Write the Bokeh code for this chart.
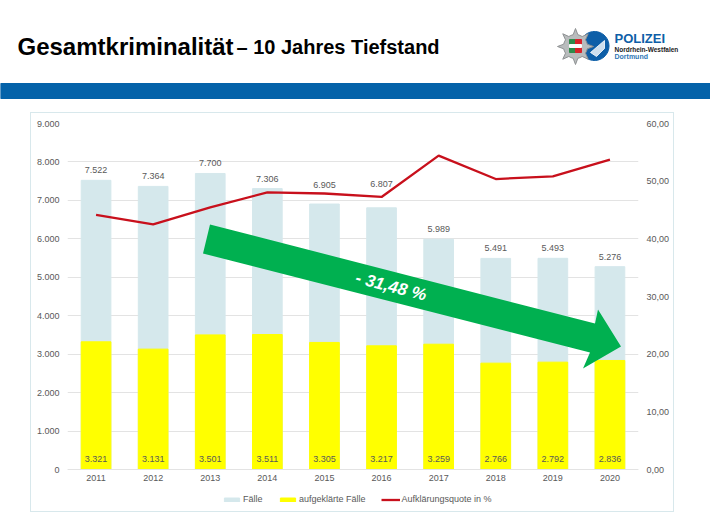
import numpy as np
from bokeh.core.properties import value
from bokeh.embed import file_html
from bokeh.layouts import column
from bokeh.models import (ColumnDataSource, FactorRange, FixedTicker, Label, LabelSet, Legend,
                          LegendItem, LinearAxis, PolyAnnotation, Range1d)
from bokeh.plotting import figure
from bokeh.resources import INLINE

# Values
jahre = ["2011", "2012", "2013", "2014", "2015", "2016", "2017", "2018", "2019", "2020"]
faelle = [7522, 7364, 7700, 7306, 6905, 6807, 5989, 5491, 5493, 5276]
aufgeklaert = [3321, 3131, 3501, 3511, 3305, 3217, 3259, 2766, 2792, 2836]
quote = [44.15, 42.52, 45.47, 48.06, 47.86, 47.26, 54.42, 50.37, 50.83, 53.75]

faelle_ticks = [0, 1000, 2000, 3000, 4000, 5000, 6000, 7000, 8000, 9000]
faelle_tick_labels = ["0", "1.000", "2.000", "3.000", "4.000", "5.000", "6.000", "7.000", "8.000", "9.000"]
quote_ticks = [0, 10, 20, 30, 40, 50, 60]
quote_tick_labels = ["0,00", "10,00", "20,00", "30,00", "40,00", "50,00", "60,00"]

FONT = "'Liberation Sans'"
GREY = "#595959"

# --- header: title, blue band, logo. Frame covers the figure, so 1 unit = 1 page pixel
head = figure(x_range=Range1d(0, 710), y_range=Range1d(112, 0), width=710, height=112,
              min_border=0, min_border_left=0, min_border_right=0, min_border_top=0,
              min_border_bottom=0, x_axis_type=None, y_axis_type=None, frame_align=False,
              output_backend="svg", toolbar_location=None)
head.outline_line_color = None
head.grid.visible = False

head.quad(left=0, right=710, top=83, bottom=98, color="#0462A9")


def head_text(x, y, s, size, color="#000000"):
    head.add_layout(Label(x=x, y=y, text=s, text_font=FONT, text_font_size=size, text_color=color,
                          text_font_style="bold", text_baseline="alphabetic"))


head_text(17, 46, "Gesamtkriminalität", "24px")
head_text(236, 46.5, "– 10 Jahres Tiefstand", "20px")

# police logo
t = np.linspace(0, 2 * np.pi, 60)
head.patch(594 + 14.5 * np.cos(t), 45.5 + 14.5 * np.sin(t), color="#0E5FA8")
head.patch([590, 604, 604, 596], [52, 40, 48, 56], color="#FFFFFF", alpha=0.8)
t = np.linspace(0, 2 * np.pi, 33)[:-1]
r = np.where(np.arange(32) % 4 == 0, 18, 12)
head.patch(575 + r * np.sin(t), 46 - r * np.cos(t), fill_color="#B9BCBD", line_color="#8E9193")
head.quad(left=569, right=575, top=39, bottom=52, color="#2E8B4A")
head.quad(left=575, right=581, top=39, bottom=52, color="#D9232B")
head.quad(left=569, right=581, top=44, bottom=47, color="#FFFFFF")
head_text(614, 38, "POLIZEI", "13px", "#0E5FA8")
head_text(614, 48.5, "Nordrhein-Westfalen", "6.5px", "#1A1A1A")
head_text(614, 55.5, "Dortmund", "7px", "#2F77B5")

# --- chart panel
# the frame runs on below zero, 42 of 388 px, to hold the axis labels and the legend
UNTER_NULL = -42 / 346
p = figure(x_range=FactorRange(factors=jahre, range_padding=0),
           y_range=Range1d(9000 * UNTER_NULL, 9000),
           width=644, height=400, min_border_left=36, min_border_right=37, min_border_top=10,
           min_border_bottom=2, margin=(0, 0, 0, 30), frame_align=False,
           output_backend="svg", toolbar_location=None,
           styles={"border": "1px solid #D8E8EC", "box-sizing": "border-box"})
p.outline_line_color = None
p.xgrid.grid_line_color = None
p.ygrid.grid_line_color = "#E3E3E3"
p.ygrid.ticker = FixedTicker(ticks=faelle_ticks)

p.extra_y_ranges = {"quote": Range1d(60 * UNTER_NULL, 60)}
p.add_layout(LinearAxis(y_range_name="quote"), "right")


def style_axis(axis, standoff=8):
    axis.axis_line_color = None
    axis.major_tick_line_color = None
    axis.minor_tick_line_color = None
    axis.major_tick_out = 0
    axis.major_tick_in = 0
    axis.major_label_text_font = FONT
    axis.major_label_text_font_size = "9px"
    axis.major_label_text_color = GREY
    axis.major_label_standoff = standoff


style_axis(p.xaxis[0], 5)
style_axis(p.yaxis[0])
style_axis(p.yaxis[1])
p.xaxis[0].fixed_location = 0
p.xaxis[0].axis_line_color = "#E3E3E3"
p.yaxis[0].ticker = FixedTicker(ticks=faelle_ticks)
p.yaxis[0].major_label_overrides = dict(zip(faelle_ticks, faelle_tick_labels))
p.yaxis[1].ticker = FixedTicker(ticks=quote_ticks)
p.yaxis[1].major_label_overrides = dict(zip(quote_ticks, quote_tick_labels))

source = ColumnDataSource(data=dict(
    jahr=jahre, faelle=faelle, aufgeklaert=aufgeklaert, quote=quote,
    faelle_text=[f"{v:,}".replace(",", ".") for v in faelle],
    aufgeklaert_text=[f"{v:,}".replace(",", ".") for v in aufgeklaert],
    null=[0] * len(jahre),
    # two labels were pushed up above the red line in the original
    versatz=[24 if j == "2016" else 19 if j == "2015" else 10 for j in jahre],
))

bars_faelle = p.vbar(x="jahr", top="faelle", width=0.52, color="#D5E8EC", source=source)
bars_aufg = p.vbar(x="jahr", top="aufgeklaert", width=0.52, color="#FFFF00", source=source)
line_quote = p.line(x="jahr", y="quote", y_range_name="quote", color="#C8101C", line_width=2.3, source=source)

p.add_layout(LabelSet(x="jahr", y="faelle", text="faelle_text", y_offset="versatz", source=source,
                      text_align="center", text_baseline="middle", text_font=value(FONT),
                      text_font_size="9px", text_color=GREY))
p.add_layout(LabelSet(x="jahr", y="null", text="aufgeklaert_text", y_offset=11, source=source,
                      text_align="center", text_baseline="middle", text_font=value(FONT),
                      text_font_size="9px", text_color=GREY))

legend = Legend(items=[LegendItem(label="Fälle", renderers=[bars_faelle]),
                       LegendItem(label="aufgeklärte Fälle", renderers=[bars_aufg]),
                       LegendItem(label="Aufklärungsquote in %", renderers=[line_quote])],
                orientation="horizontal", location=(155, 7), padding=0, margin=0, spacing=15,
                glyph_width=19, glyph_height=5, label_standoff=2, background_fill_alpha=0,
                border_line_color=None, label_text_font=FONT, label_text_font_size="9px",
                label_text_color=GREY)
p.add_layout(legend)

# green arrow, in pixels of this figure
OX, OY = 32.5, 115
arrow_x = [210, 595, 598, 621, 583, 590, 203]
arrow_y = [225, 324, 310, 347, 369, 353, 254]
p.add_layout(PolyAnnotation(xs=[v - OX for v in arrow_x], ys=[v - OY for v in arrow_y],
                            xs_units="canvas", ys_units="canvas", fill_color="#00B050",
                            fill_alpha=1, line_color=None))
p.add_layout(Label(x=391 - OX, y=287 - OY, x_units="canvas", y_units="canvas", text="- 31,48 %",
                   text_font=FONT, text_font_size="17px", text_color="#FFFFFF",
                   text_font_style="bold italic", angle=-14.4, angle_units="deg",
                   text_align="center", text_baseline="alphabetic"))

page = column(head, p, spacing=0, styles={"position": "absolute", "left": "0px", "top": "0px"})

open("out.html", "w").write(file_html(page, INLINE))
